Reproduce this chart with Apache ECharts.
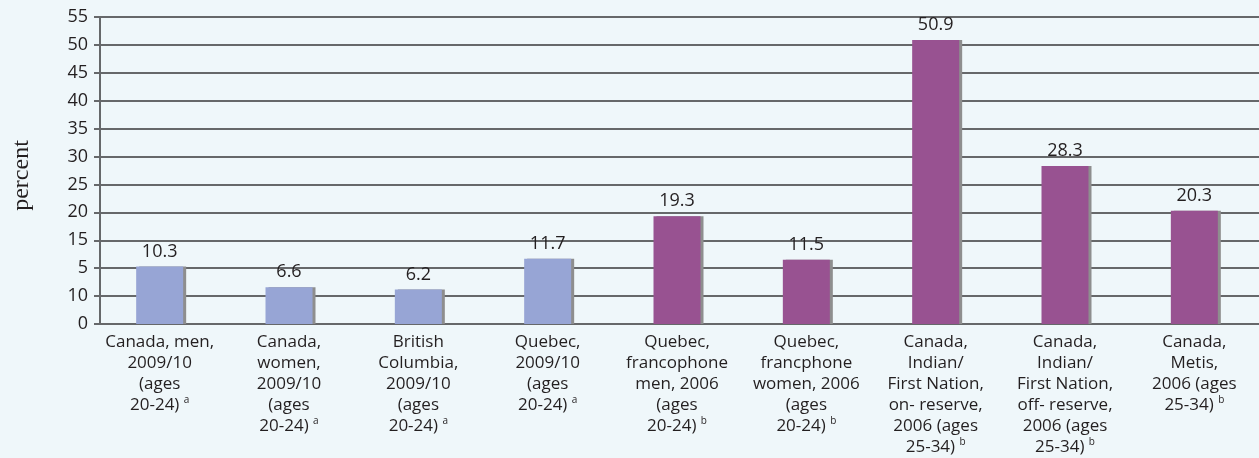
<!DOCTYPE html>
<html>
<head>
<meta charset="utf-8">
<script src="https://cdn.jsdelivr.net/npm/echarts@6/dist/echarts.min.js"></script>
<style>
html,body{margin:0;padding:0;background:#eff7fa;}
#c{width:1259px;height:458px;}
</style>
</head>
<body>
<div id="c"></div>
<script>
var categories = [
  "Canada, men,\n2009/10\n(ages\n20-24) {sup|a}",
  "Canada,\nwomen,\n2009/10\n(ages\n20-24) {sup|a}",
  "British\nColumbia,\n2009/10\n(ages\n20-24) {sup|a}",
  "Quebec,\n2009/10\n(ages\n20-24) {sup|a}",
  "Quebec,\nfrancophone\nmen, 2006\n(ages\n20-24) {sup|b}",
  "Quebec,\nfrancphone\nwomen, 2006\n(ages\n20-24) {sup|b}",
  "Canada,\nIndian/\nFirst Nation,\non- reserve,\n2006 (ages\n25-34) {sup|b}",
  "Canada,\nIndian/\nFirst Nation,\noff- reserve,\n2006 (ages\n25-34) {sup|b}",
  "Canada,\nMetis,\n2006 (ages\n25-34) {sup|b}"
];
var values = [10.3, 6.6, 6.2, 11.7, 19.3, 11.5, 50.9, 28.3, 20.3];
var groups = ["a", "a", "a", "a", "b", "b", "b", "b", "b"];
var groupColors = { a: "#97a5d5", b: "#985291" };
var yTickLabels = ["0", "10", "5", "15", "20", "25", "30", "35", "40", "45", "50", "55"];

var textColor = "#231f20";
var lineColor = "#66686a";
var font = "'Open Sans', sans-serif";

var chart = echarts.init(document.getElementById('c'), null, { renderer: 'canvas' });
chart.setOption({
  backgroundColor: "#eff7fa",
  animation: false,
  grid: { left: 95, right: -2, top: 17, bottom: 131, containLabel: false },
  xAxis: {
    type: 'category',
    data: categories,
    axisLine: { lineStyle: { color: lineColor, width: 2 } },
    axisTick: { show: false },
    axisLabel: {
      interval: 0,
      margin: 8,
      color: textColor,
      fontFamily: font,
      fontSize: 17,
      lineHeight: 21,
      align: 'center',
      rich: {
        sup: { fontSize: 10, fontFamily: font, color: textColor, verticalAlign: 'top', lineHeight: 21, padding: [0, 0, 8, 0] }
      }
    }
  },
  yAxis: {
    type: 'value',
    min: 0,
    max: 55,
    interval: 5,
    offset: -5,
    name: 'percent',
    nameLocation: 'middle',
    nameRotate: 90,
    nameGap: 66,
    nameTextStyle: { fontFamily: "'Liberation Serif', serif", fontSize: 24, color: textColor, padding: [0, 10, 0, 0] },
    axisLine: { show: true, lineStyle: { color: lineColor, width: 2 } },
    axisTick: { show: true, length: 6, lineStyle: { color: lineColor, width: 2 } },
    splitLine: { show: true, lineStyle: { color: lineColor, width: 2 } },
    axisLabel: {
      margin: 12,
      color: textColor,
      fontFamily: font,
      fontSize: 18,
      formatter: function (v) { return yTickLabels[Math.round(v / 5)]; }
    }
  },
  series: [{
    type: 'bar',
    barWidth: 47,
    data: values.map(function (v, i) {
      return { value: v, itemStyle: { color: groupColors[groups[i]] } };
    }),
    itemStyle: { shadowColor: '#8e8e8e', shadowOffsetX: 3, shadowOffsetY: 0, shadowBlur: 0 },
    label: {
      show: true,
      position: 'top',
      distance: 6,
      color: textColor,
      fontFamily: font,
      fontSize: 18
    }
  }]
});
</script>
</body>
</html>
